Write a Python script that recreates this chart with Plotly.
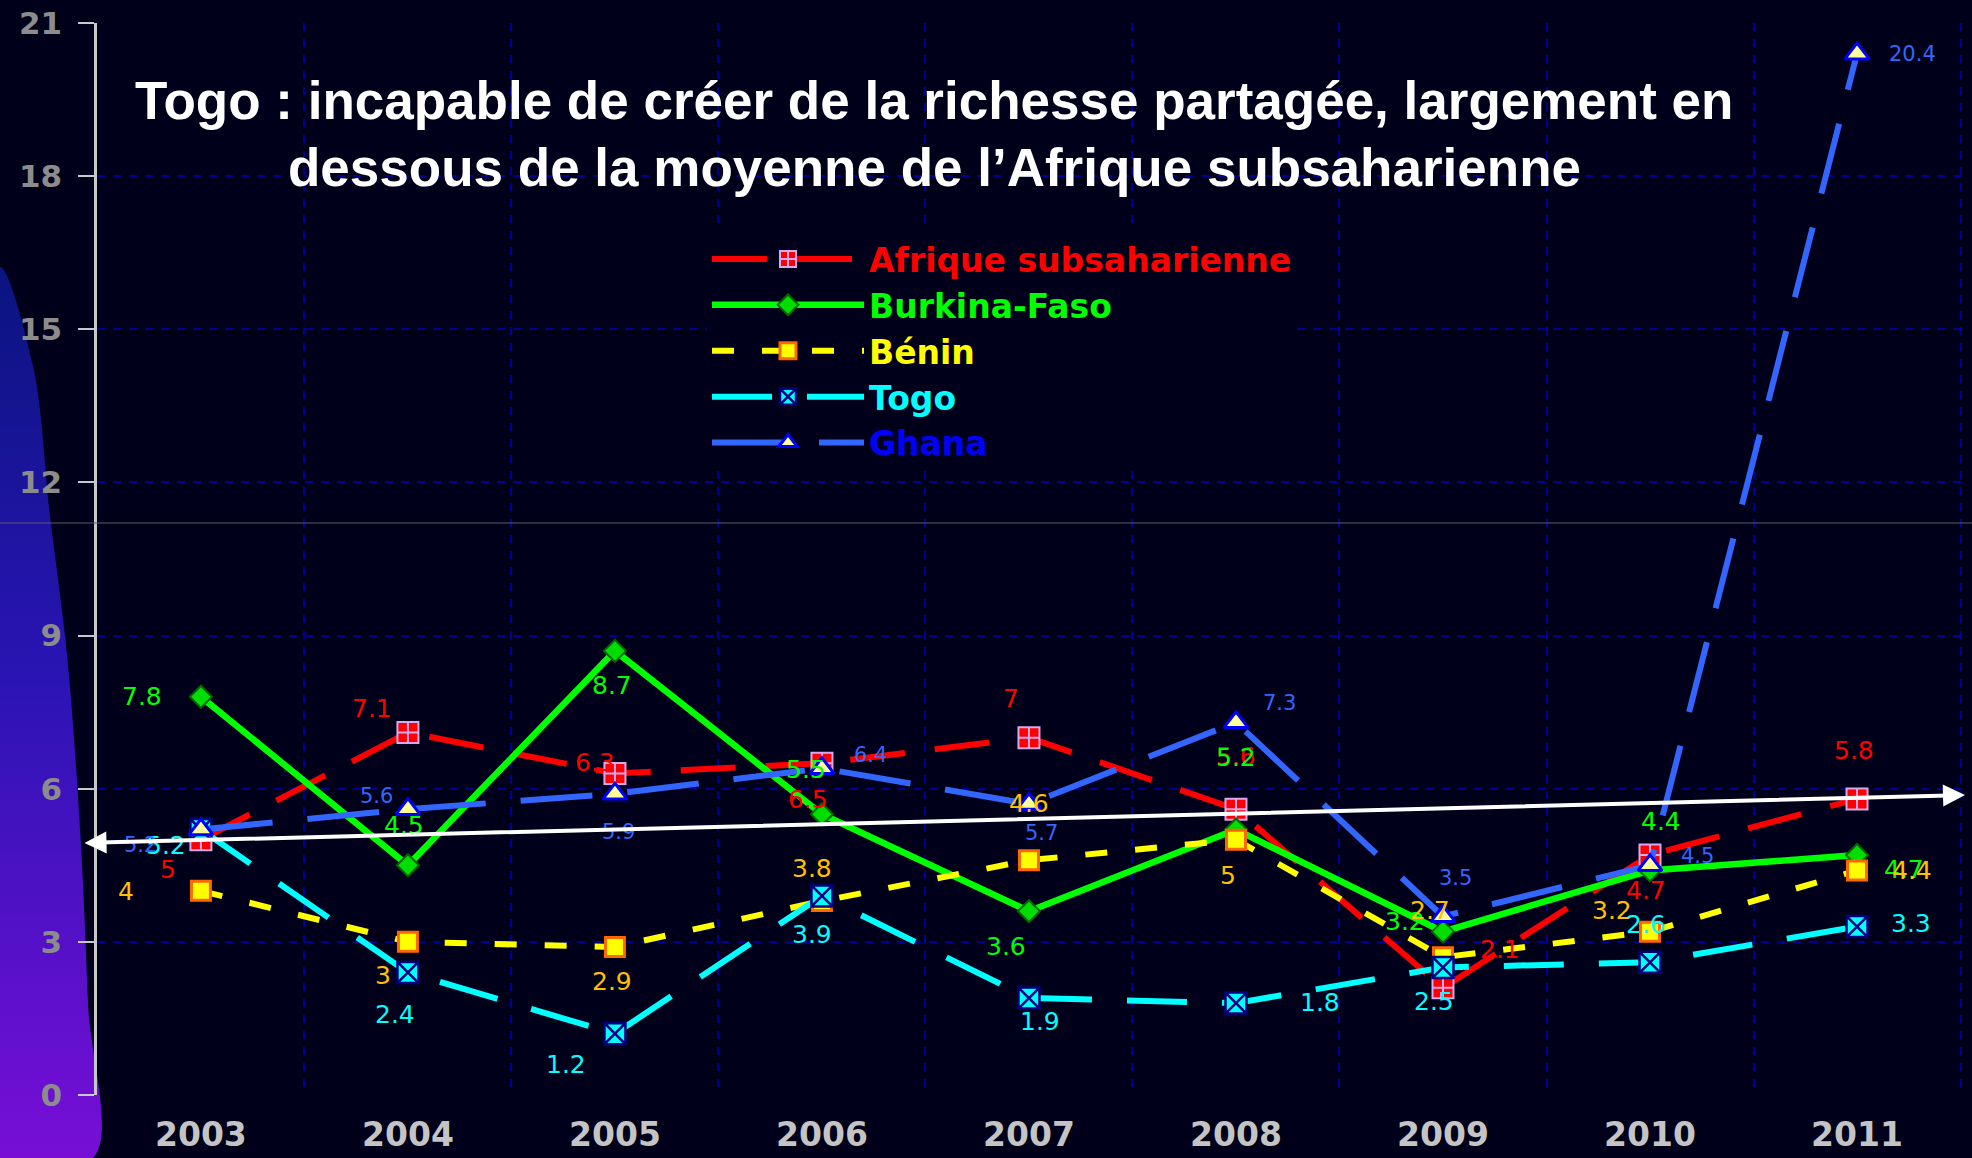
import plotly.graph_objects as go

W, H = 1972, 1158

# ---------------- data ----------------
years = [2003, 2004, 2005, 2006, 2007, 2008, 2009, 2010, 2011]
afrique = [5, 7.1, 6.3, 6.5, 7, 5.6, 2.1, 4.7, 5.8]
burkina = [7.8, 4.5, 8.7, 5.5, 3.6, 5.2, 3.2, 4.4, 4.7]
benin = [4, 3, 2.9, 3.8, 4.6, 5, 2.7, 3.2, 4.4]
togo = [5.2, 2.4, 1.2, 3.9, 1.9, 1.8, 2.5, 2.6, 3.3]
ghana = [5.2, 5.6, 5.9, 6.4, 5.7, 7.3, 3.5, 4.5, 20.4]
y_ticks = [0, 3, 6, 9, 12, 15, 18, 21]
series_names = ["Afrique subsaharienne", "Burkina-Faso", "Bénin", "Togo", "Ghana"]
title_lines = ["Togo : incapable de créer de la richesse partagée, largement en",
               "dessous de la moyenne de l’Afrique subsaharienne"]

# ---------------- styles ----------------
BG = "#00001A"
styles = [
    dict(color="#FF0000", dash="55px,30px", width=6, symbol="square-cross", msize=21,
         mcolor="#FF0000", mline="#D8A8F0", mlw=2, lab="#FF0000", labsize=25, leg="#FF0000",
         offs=[(-33, 30), (-36, -24), (-20, -11), (-14, 36), (-18, -39), (0, -53), (57, -38), (-4, 35), (-3, -48)]),
    dict(color="#00FF00", dash="solid", width=6.5, symbol="diamond", msize=17,
         mcolor="#00DD00", mline="#006600", mlw=2, lab="#00FF00", labsize=25, leg="#00FF00",
         offs=[(-59, 0), (-4, -40), (-3, 35), (-16, -45), (-23, 35), (0, -72), (-38, -10), (11, -49), (47, 14)]),
    dict(color="#FFFF00", dash="22px,28px", width=6, symbol="square", msize=19,
         mcolor="#FFFF00", mline="#FF6600", mlw=3, lab="#FFC000", labsize=25, leg="#FFFF00",
         offs=[(-75, 1), (-25, 34), (-3, 35), (-10, -33), (0, -57), (-8, 36), (-13, -47), (-38, -21), (55, 0)]),
    dict(color="#00FFFF", dash="60px,35px", width=6, symbol="square-x", msize=21,
         mcolor="#00FFFF", mline="#000080", mlw=2.5, lab="#00FFFF", labsize=25, leg="#00FFFF",
         offs=[(-35, 16), (-13, 42), (-49, 31), (-10, 39), (11, 23), (84, -1), (-9, 34), (-4, -38), (54, -3)]),
    dict(color="#3366FF", dash="72px,35px", width=6, symbol="triangle-up", msize=21,
         mcolor="#FFFF99", mline="#0000FF", mlw=3, lab="#3366FF", labsize=21, leg="#0000FF",
         offs=[(-60, 15), (-31, -13), (4, 38), (49, -13), (13, 29), (44, -19), (13, -38), (47, -9), (55, 0)]),
]
values = [afrique, burkina, benin, togo, ghana]

# decorative gradient band on the left (pixel coordinates of the page)
deco_x = [0, 33, 50, 67, 80, 88, 93, 0, 0]
deco_y = [267, 366, 516, 655, 829, 1003, 1158, 1158, 267]

# plot area in pixels
PX0, PX1 = 97.4, 1962.6
PY_TOP, PY_BOT = 23, 1095

fig = go.Figure()

# decoration lives on the bottom subplot (x / y), drawn first
fig.add_trace(go.Scatter(
    x=deco_x, y=deco_y, xaxis="x", yaxis="y", mode="lines", line=dict(width=0, shape="spline"),
    fill="toself", fillgradient=dict(type="vertical",
                                     colorscale=[[0, "#7A0ED8"], [0.55, "#2A14B4"], [1, "#0A1480"]]),
    showlegend=False, hoverinfo="skip",
))

# data series on the main subplot (x2 / y2), drawn above
for name, vals, st in zip(series_names, values, styles):
    fig.add_trace(go.Scatter(
        x=years, y=vals, mode="lines+markers", xaxis="x2", yaxis="y2",
        name=f'<span style="color:{st["leg"]}">{name}</span>',
        line=dict(color=st["color"], width=st["width"], dash=st["dash"]),
        marker=dict(symbol=st["symbol"], size=st["msize"], color=st["mcolor"],
                    line=dict(color=st["mline"], width=st["mlw"])),
        hoverinfo="skip",
    ))

annotations = []
# data labels
for vals, st in zip(values, styles):
    for yr, v, (dx, dy) in zip(years, vals, st["offs"]):
        annotations.append(dict(
            x=yr, y=v, xref="x2", yref="y2", text=f"{v:g}", showarrow=False,
            xshift=dx, yshift=-dy,
            font=dict(family="DejaVu Sans", size=st["labsize"], color=st["lab"]),
        ))

# title
for line_text, ypix in zip(title_lines, [101, 167]):
    annotations.append(dict(x=934 / W, y=1 - ypix / H, xref="paper", yref="paper", text=line_text,
                            showarrow=False, xanchor="center", yanchor="middle",
                            font=dict(family="Liberation Sans, Arial", size=53,
                                      color="white", weight="bold")))

# white trend arrow
annotations.append(dict(x=1965, y=795, ax=83, ay=843, xref="x", yref="y", axref="x", ayref="y",
                        text="", showarrow=True, arrowhead=2, arrowside="end+start",
                        arrowsize=1.1, arrowwidth=4, arrowcolor="white", standoff=0, startstandoff=0))

fig.update_layout(
    width=W, height=H,
    margin=dict(l=0, r=0, t=0, b=0, pad=0),
    paper_bgcolor=BG, plot_bgcolor="rgba(0,0,0,0)",
    showlegend=True,
    legend=dict(x=707 / W, y=1 - 231 / H, xanchor="left", yanchor="top",
                bgcolor=BG, borderwidth=0, itemwidth=152,
                font=dict(family="DejaVu Sans", size=33, weight="bold")),
    xaxis=dict(domain=[0, 1], range=[0, W], anchor="y", visible=False, fixedrange=True, automargin=False),
    yaxis=dict(domain=[0, 1], range=[H, 0], anchor="x", visible=False, fixedrange=True, automargin=False),
    xaxis2=dict(domain=[PX0 / W, PX1 / W], range=[2002.5, 2011.51], anchor="y2", automargin=False,
                tickvals=years, ticktext=[str(y) for y in years],
                showgrid=False, zeroline=False, showline=False, ticks="",
                ticklabelstandoff=17,
                tickfont=dict(family="DejaVu Sans", size=33, color="#C4C4C4", weight="bold"),
                minor=dict(tickvals=[y + 0.5 for y in years], showgrid=True, gridcolor="#000099",
                           griddash="8px,8px", gridwidth=2, ticks=""),
                fixedrange=True),
    yaxis2=dict(domain=[1 - PY_BOT / H, 1 - PY_TOP / H], range=[0, 21], anchor="x2", automargin=False,
                tickvals=y_ticks, showgrid=True, gridcolor="#000099", griddash="8px,8px", gridwidth=2,
                zeroline=False, showline=True, linecolor="#C8C8C8", linewidth=3,
                ticks="outside", ticklen=16, tickwidth=2, tickcolor="#C8C8C8", ticklabelstandoff=10,
                tickfont=dict(family="DejaVu Sans", size=31, color="#8C8C8C", weight="bold"),
                fixedrange=True),
    annotations=annotations,
    shapes=[dict(type="line", xref="paper", yref="paper", x0=0, x1=1, y0=1 - 523 / H, y1=1 - 523 / H,
                 line=dict(color="#5A5A6A", width=1), layer="above")],
)

fig.write_html("out.html", config={"displayModeBar": False},
               post_script="document.body.style.margin='0';document.body.style.overflow='hidden';")
